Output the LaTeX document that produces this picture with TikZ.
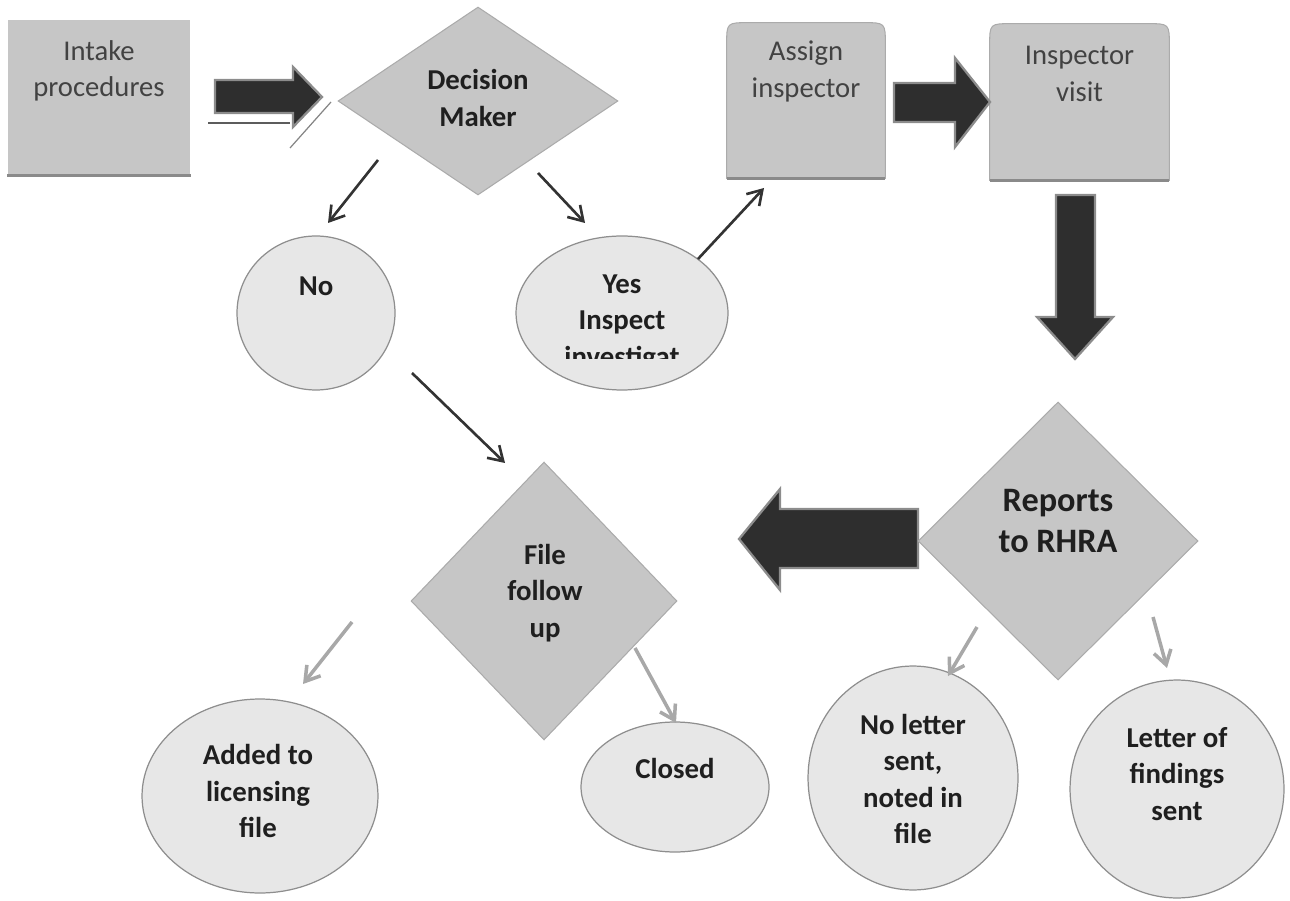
\documentclass[tikz,border=0pt]{standalone}
\usepackage{fontspec}
\setmainfont{Carlito}
\usetikzlibrary{shapes.geometric,arrows.meta,calc}
\definecolor{boxfill}{HTML}{C6C6C6}
\definecolor{boxline}{HTML}{ABABAB}
\definecolor{boxshadow}{HTML}{8A8A8A}
\definecolor{ellfill}{HTML}{E7E7E7}
\definecolor{ellline}{HTML}{8E8E8E}
\definecolor{darkarr}{HTML}{2E2E2E}
\definecolor{darkarrline}{HTML}{8C8C8C}
\definecolor{thinarr}{HTML}{333333}
\definecolor{greyarr}{HTML}{A8A8A8}
\definecolor{txtnorm}{HTML}{424242}
\definecolor{txtbold}{HTML}{1F1F1F}
\begin{document}
\begin{tikzpicture}[x=0.02cm,y=-0.02cm,
  boxshape/.style={fill=boxfill,draw=boxline,line width=0.6pt},
  shadowline/.style={draw=boxshadow,line width=1.4pt},
  ellshape/.style={ellipse,fill=ellfill,draw=ellline,line width=0.7pt,inner sep=0pt},
  diashape/.style={diamond,fill=boxfill,draw=boxline,line width=0.6pt,inner sep=0pt},
  anchorbox/.style={rectangle,draw=none,inner sep=0pt},
  blockarrow/.style={fill=darkarr,draw=darkarrline,line width=1.3pt,line join=miter},
  thinconn/.style={draw=thinarr,line width=1.5pt,-{Straight Barb[length=8pt,width=10pt,line width=1.5pt]}},
  greyconn/.style={draw=greyarr,line width=2pt,-{Straight Barb[length=8pt,width=10pt,line width=2pt]}},
  normtext/.style={align=center,text=txtnorm,inner sep=0pt,font=\fontsize{16.3pt}{20.8pt}\selectfont},
  boldtext/.style={align=center,text=txtbold,inner sep=0pt,font=\fontsize{16.4pt}{20.6pt}\selectfont\bfseries},
  bigtext/.style={align=center,text=txtbold,inner sep=0pt,font=\fontsize{19.5pt}{23.8pt}\selectfont\bfseries}
]
\useasboundingbox (0,0) rectangle (1290,901);

% ---------- top row ----------
\node[boxshape,anchorbox,minimum width=3.64cm,minimum height=3.1cm] (intake) at (99,97.5) {};
\draw[shadowline] (intake.south west) -- (intake.south east);
\node[normtext] (intaketxt) at (99,71) {Intake\\procedures};

\node[diashape,minimum width=5.6cm,minimum height=3.76cm] (decision) at (478,101) {};
\node[boldtext] (decisiontxt) at (478,98) {Decision\\Maker};

\node[anchorbox,minimum width=3.16cm,minimum height=3.1cm] (assign) at (806,100.5) {};
\draw[boxshape] (assign.south west) -- ($(assign.north west)+(0,22)$)
  .. controls (assign.north west) .. ($(assign.north west)+(22,0)$)
  -- ($(assign.north east)+(-22,0)$)
  .. controls (assign.north east) .. ($(assign.north east)+(0,22)$)
  -- (assign.south east) -- cycle;
\draw[shadowline] (assign.south west) -- (assign.south east);
\node[normtext] (assigntxt) at (806,71.5) {Assign\\inspector};

\node[anchorbox,minimum width=3.58cm,minimum height=3.12cm] (visit) at (1079.5,102) {};
\draw[boxshape] (visit.south west) -- ($(visit.north west)+(0,22)$)
  .. controls (visit.north west) .. ($(visit.north west)+(22,0)$)
  -- ($(visit.north east)+(-22,0)$)
  .. controls (visit.north east) .. ($(visit.north east)+(0,22)$)
  -- (visit.south east) -- cycle;
\draw[shadowline] (visit.south west) -- (visit.south east);
\node[normtext] (visittxt) at (1079.5,74) {Inspector\\visit};

% ---------- block arrows ----------
\draw[blockarrow] (215,80) -- (293,80) -- (293,67) -- (322,97) -- (293,127) -- (293,113) -- (215,113) -- cycle;
\draw[draw=thinarr!80,line width=1.2pt] (208,123) -- (290,123);
\draw[draw=thinarr!60,line width=0.7pt] (290,148) -- (331,102);

\draw[blockarrow] (894,83) -- (955,83) -- (955,58) -- (990,102) -- (955,147) -- (955,122) -- (894,122) -- cycle;

\draw[blockarrow] (1056,195) -- (1095,195) -- (1095,317) -- (1113,317) -- (1075,359) -- (1037,317) -- (1056,317) -- cycle;

\draw[blockarrow] (918,509) -- (780,509) -- (780,489) -- (739,539) -- (780,590) -- (780,568) -- (918,568) -- cycle;

% ---------- middle row ----------
\node[ellshape,minimum width=3.16cm,minimum height=3.08cm] (no) at (316,313) {};
\node[boldtext] (notxt) at (316,286) {No};

\node[ellshape,minimum width=4.24cm,minimum height=3.08cm] (yes) at (622,313) {};
\begin{scope}
  \clip (500,230) rectangle (740,359);
  \node[boldtext,font=\fontsize{16.4pt}{21pt}\selectfont\bfseries] (yestxt) at (622,323) {Yes\\Inspect\\investigat};
\end{scope}

\node[diashape,minimum width=5.32cm,minimum height=5.56cm] (file) at (544,601) {};
\node[boldtext] (filetxt) at (545,593) {File\\follow\\up};

\node[diashape,minimum width=5.6cm,minimum height=5.56cm] (reports) at (1058,541) {};
\node[bigtext] (reportstxt) at (1058,521) {Reports\\to RHRA};

% ---------- bottom row ----------
\node[ellshape,minimum width=4.72cm,minimum height=3.88cm] (added) at (260,796) {};
\node[boldtext] (addedtxt) at (258,791) {Added to\\licensing\\file};

\node[ellshape,minimum width=3.76cm,minimum height=2.6cm] (closed) at (675,787) {};
\node[boldtext] (closedtxt) at (675,768) {Closed};

\node[ellshape,minimum width=4.2cm,minimum height=4.48cm] (noletter) at (913,778) {};
\node[boldtext] (nolettertxt) at (913,779) {No letter\\sent,\\noted in\\file};

\node[ellshape,minimum width=4.28cm,minimum height=4.36cm] (letter) at (1177,789) {};
\node[boldtext] (lettertxt) at (1177,774) {Letter of\\findings\\sent};

% ---------- thin connectors ----------
\coordinate (c1s) at (378,160); \coordinate (c1e) at (328,223);
\coordinate (c2s) at (538,173); \coordinate (c2e) at (585,223);
\coordinate (c3s) at (698,259); \coordinate (c3e) at (764,188);
\coordinate (c4s) at (412,373); \coordinate (c4e) at (505,463);
\draw[thinconn] (c1s) -- (c1e);
\draw[thinconn] (c2s) -- (c2e);
\draw[thinconn] (c3s) -- (c3e);
\draw[thinconn] (c4s) -- (c4e);

\coordinate (g1s) at (352,622); \coordinate (g1e) at (303,684);
\coordinate (g2s) at (635,648); \coordinate (g2e) at (676,723);
\coordinate (g3s) at (977,627); \coordinate (g3e) at (948,676);
\coordinate (g4s) at (1153,617); \coordinate (g4e) at (1167,668);
\draw[greyconn] (g1s) -- (g1e);
\draw[greyconn] (g2s) -- (g2e);
\draw[greyconn] (g3s) -- (g3e);
\draw[greyconn] (g4s) -- (g4e);
\end{tikzpicture}
\end{document}
